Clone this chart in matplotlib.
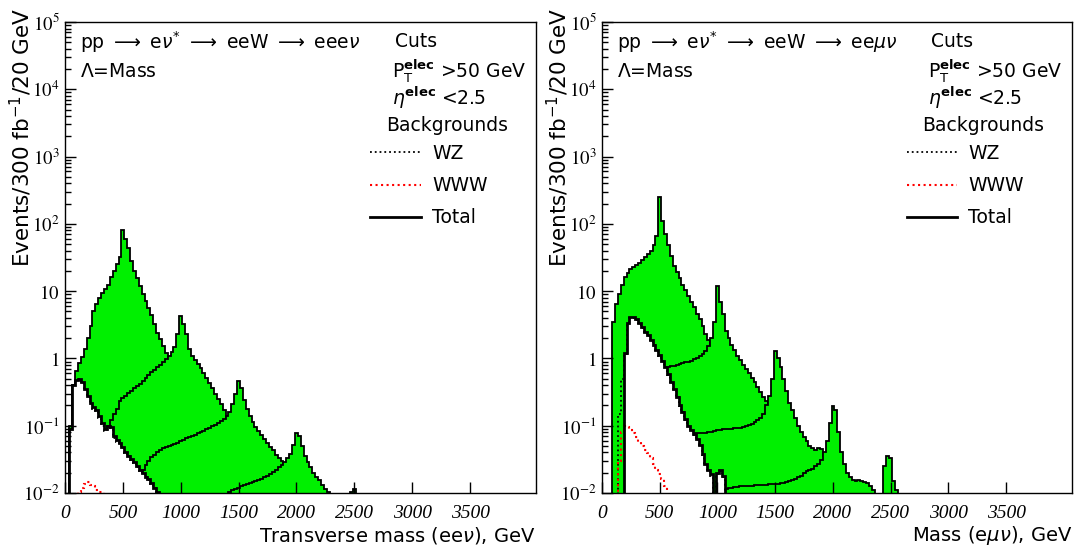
import numpy as np
import matplotlib
matplotlib.use('Agg')
import matplotlib.pyplot as plt
from matplotlib.ticker import LogLocator, NullFormatter, NullLocator

# 25 GeV bins; each series is given by the centre of its first bin and its contents
BIN = 25

# left panel: pp -> e nu* -> eeW -> eee nu
left_total_start = 50
left_total = [0.09, 0.4, 0.48, 0.5, 0.45, 0.35, 0.28, 0.22, 0.19, 0.17,
              0.14, 0.11, 0.09, 0.1, 0.095, 0.07, 0.062, 0.055, 0.048, 0.04,
              0.036, 0.032, 0.029, 0.025, 0.022, 0.02, 0.0175, 0.016, 0.014, 0.012,
              0.0105, 0.009, 0.006]
left_wz_start = 50
left_wz = [0.09, 0.39, 0.467, 0.487, 0.437, 0.337, 0.266, 0.208, 0.178, 0.159,
           0.13, 0.1, 0.083, 0.092, 0.088, 0.065, 0.058, 0.052, 0.046, 0.039,
           0.035, 0.031, 0.028, 0.024, 0.021, 0.019, 0.017, 0.0155, 0.0135, 0.0118,
           0.0103, 0.0088, 0.006]
left_www_start = 100
left_www = [0.008, 0.0105, 0.012, 0.0135, 0.0148, 0.013, 0.0125, 0.011, 0.0105,
            0.0102, 0.008]

left_s500_start = 50
left_s500 = [0.1, 0.4, 0.65, 0.85, 1.05, 1.4, 2.0, 3.0, 5.0, 6.5,
             8.0, 9.3, 10.8, 12.5, 16, 20, 25, 32, 82, 60,
             44, 28, 20, 15.5, 12, 9.2, 7.2, 5.6, 4.4, 3.2,
             2.4, 1.95, 1.55, 1.2, 0.95, 0.75, 0.6, 0.5, 0.42, 0.35,
             0.29, 0.24, 0.2, 0.17, 0.14, 0.115, 0.095, 0.08, 0.065, 0.055,
             0.045, 0.037, 0.03, 0.024, 0.018, 0.013, 0.008]
left_s1000_start = 375
left_s1000 = [0.1, 0.12, 0.15, 0.18, 0.23, 0.26, 0.28, 0.31, 0.33, 0.36,
              0.39, 0.42, 0.46, 0.51, 0.57, 0.63, 0.68, 0.74, 0.8, 0.88,
              0.98, 1.1, 1.25, 1.5, 2.3, 4.3, 3.2, 2.3, 1.4, 1.08,
              0.95, 0.84, 0.72, 0.61, 0.52, 0.43, 0.36, 0.3, 0.25, 0.21,
              0.17, 0.135, 0.11, 0.09, 0.075, 0.062, 0.05, 0.04, 0.033, 0.027,
              0.022, 0.018, 0.014, 0.011, 0.008]
left_s1500_start = 675
left_s1500 = [0.022, 0.026, 0.03, 0.034, 0.037, 0.04, 0.043, 0.046, 0.048, 0.05,
              0.051, 0.053, 0.056, 0.059, 0.062, 0.065, 0.068, 0.071, 0.074, 0.077,
              0.08, 0.084, 0.088, 0.093, 0.098, 0.104, 0.11, 0.118, 0.127, 0.138,
              0.16, 0.21, 0.3, 0.46, 0.36, 0.24, 0.18, 0.14, 0.115, 0.097,
              0.084, 0.074, 0.064, 0.056, 0.049, 0.043, 0.037, 0.033, 0.03, 0.027,
              0.024, 0.021, 0.018, 0.016, 0.014, 0.012, 0.0105, 0.008]
left_s2000_start = 1400
left_s2000 = [0.0095, 0.0105, 0.011, 0.0115, 0.012, 0.0125, 0.013, 0.0135, 0.014, 0.0145,
              0.015, 0.0155, 0.016, 0.017, 0.018, 0.019, 0.0205, 0.022, 0.024, 0.026,
              0.029, 0.033, 0.038, 0.052, 0.078, 0.07, 0.05, 0.036, 0.029, 0.024,
              0.02, 0.017, 0.0155, 0.013, 0.0115, 0.0105, 0.008]
left_s2500_start = 2475
left_s2500 = [0.0105, 0.0115, 0.009]

# right panel: pp -> e nu* -> eeW -> ee mu nu
right_total_start = 200
right_total = [1.2, 3.4, 4.1, 4.1, 3.8, 3.4, 2.9, 2.5, 2.2, 1.9,
               1.6, 1.35, 1.12, 0.92, 0.75, 0.58, 0.45, 0.35, 0.27, 0.2,
               0.16, 0.125, 0.1, 0.085, 0.075, 0.063, 0.052, 0.038, 0.027, 0.022,
               0.019, 0.008, 0.02, 0.022, 0.018, 0.005]
right_wz_start = 150
right_wz = [0.15, 0.5, 1.15, 3.3, 4.0, 4.0, 3.7, 3.32, 2.84, 2.45,
            2.16, 1.87, 1.57, 1.33, 1.1, 0.905, 0.74, 0.572, 0.443, 0.345,
            0.266, 0.197, 0.158, 0.123, 0.098, 0.083, 0.073, 0.062, 0.051, 0.037,
            0.026, 0.021, 0.018, 0.008, 0.019, 0.021, 0.017, 0.005]
right_www_start = 150
right_www = [0.03, 0.08, 0.098, 0.095, 0.086, 0.078, 0.068, 0.058, 0.05, 0.044,
             0.039, 0.033, 0.027, 0.022, 0.019, 0.016, 0.0125, 0.009]

right_s500_start = 75
right_s500 = [0.005, 3.5, 6.5, 9, 12.5, 16, 18.5, 21, 22.5, 24.5,
              26.5, 29, 32, 36, 40, 48, 65, 250, 110, 70,
              48, 33, 24, 19, 15.5, 12.5, 10.3, 8.5, 7, 5.8,
              4.6, 3.8, 3.0, 2.3, 1.85, 1.5, 1.2, 0.95, 0.78, 0.64,
              0.52, 0.43, 0.35, 0.29, 0.24, 0.2, 0.16, 0.13, 0.11, 0.09,
              0.075, 0.062, 0.05, 0.04, 0.033, 0.027, 0.022, 0.018, 0.015, 0.012,
              0.0105, 0.008]
right_s1000_start = 550
right_s1000 = [0.72, 0.74, 0.76, 0.78, 0.8, 0.83, 0.85, 0.87, 0.9, 0.93,
               0.97, 1.02, 1.08, 1.17, 1.3, 1.55, 2.0, 3.5, 12, 7,
               4.5, 2.6, 2.0, 1.6, 1.35, 1.1, 0.95, 0.8, 0.7, 0.6,
               0.51, 0.44, 0.38, 0.32, 0.27, 0.23, 0.19, 0.16, 0.13, 0.11,
               0.09, 0.075, 0.062, 0.052, 0.043, 0.036, 0.03, 0.025, 0.021, 0.017,
               0.014, 0.012, 0.01, 0.008]
right_s1500_start = 800
right_s1500 = [0.078, 0.078, 0.078, 0.078, 0.079, 0.08, 0.082, 0.084, 0.086, 0.087,
               0.088, 0.088, 0.089, 0.09, 0.091, 0.092, 0.094, 0.096, 0.099, 0.102,
               0.107, 0.113, 0.12, 0.13, 0.15, 0.2, 0.28, 0.5, 1.3, 1.0,
               0.75, 0.5, 0.33, 0.22, 0.17, 0.13, 0.1, 0.08, 0.068, 0.06,
               0.05, 0.046, 0.044, 0.047, 0.045, 0.036, 0.03, 0.026, 0.023, 0.02,
               0.018, 0.016, 0.014, 0.013, 0.012, 0.011, 0.0105, 0.009]
right_s2000_start = 1025
right_s2000 = [0.01, 0.011, 0.0115, 0.012, 0.012, 0.0122, 0.0124, 0.0125, 0.0126, 0.0127,
               0.0128, 0.0129, 0.013, 0.013, 0.0131, 0.0132, 0.0133, 0.0134, 0.0135, 0.0136,
               0.0138, 0.014, 0.0142, 0.0145, 0.015, 0.0155, 0.016, 0.017, 0.018, 0.0195,
               0.021, 0.022, 0.023, 0.025, 0.027, 0.031, 0.04, 0.06, 0.11, 0.195,
               0.17, 0.08, 0.04, 0.027, 0.02, 0.017, 0.0155, 0.015, 0.0155, 0.015,
               0.0145, 0.014, 0.0125, 0.011, 0.009]
right_s2500_start = 2425
right_s2500 = [0.009, 0.025, 0.035, 0.033, 0.015, 0.011, 0.007]

xticks = [0, 500, 1000, 1500, 2000, 2500, 3000, 3500]
yticks = [1e-2, 1e-1, 1, 10, 1e2, 1e3, 1e4, 1e5]
ytick_labels = [r'$\mathit{10}^{\mathit{-2}}$', r'$\mathit{10}^{\mathit{-1}}$',
                r'$\mathit{1}$', r'$\mathit{10}$', r'$\mathit{10}^{\mathit{2}}$',
                r'$\mathit{10}^{\mathit{3}}$', r'$\mathit{10}^{\mathit{4}}$',
                r'$\mathit{10}^{\mathit{5}}$']

GREEN = '#00f000'
FLOOR = 1e-3


def edges(start, vals):
    return start - BIN / 2 + BIN * np.arange(len(vals) + 1)


def signal(ax, start, vals):
    e = edges(start, vals)
    ax.stairs(vals, e, baseline=FLOOR, fill=True, color=GREEN, lw=0)
    ax.stairs(vals, e, baseline=FLOOR, color='black', lw=1.3)


def panel(ax, signals, total, wz, www, title, xlabel):
    for start, vals in signals:
        signal(ax, start, vals)
    ax.stairs(total[1], edges(*total), baseline=FLOOR, fill=True, color='white', lw=0)
    h_wz = ax.stairs(wz[1], edges(*wz), baseline=FLOOR, color='black', lw=1.3, ls=':')
    h_www = ax.stairs(www[1], edges(*www), baseline=FLOOR, color='red', lw=1.5, ls=':')
    h_tot = ax.stairs(total[1], edges(*total), baseline=FLOOR, color='black', lw=2.0)

    ax.set_yscale('log')
    ax.set_xlim(0, 4070)
    ax.set_ylim(1e-2, 1e5)
    ax.set_xticks(xticks)
    ax.set_xticklabels([str(t) for t in xticks], family='Liberation Serif',
                       style='italic', fontsize=14)
    ax.xaxis.set_minor_locator(NullLocator())
    ax.set_yticks(yticks)
    ax.set_yticklabels(ytick_labels, fontsize=13.5)
    for lab in ax.get_yticklabels():
        lab.set_math_fontfamily('stix')
    ax.yaxis.set_minor_locator(LogLocator(base=10, subs=np.arange(2, 10), numticks=20))
    ax.yaxis.set_minor_formatter(NullFormatter())
    ax.tick_params(which='major', direction='in', length=8, width=1, pad=4)
    ax.tick_params(which='minor', direction='in', length=4, width=1)
    ax.tick_params(axis='x', pad=9)
    for s in ax.spines.values():
        s.set_linewidth(1.0)

    fs = 13.5
    ax.text(0.032, 0.958, title, transform=ax.transAxes, fontsize=fs, va='center')
    ax.text(0.032, 0.894, r'$\Lambda$=Mass', transform=ax.transAxes, fontsize=fs, va='center')
    ax.text(0.700, 0.958, 'Cuts', transform=ax.transAxes, fontsize=fs, va='center')
    ax.text(0.694, 0.895, r'P$_\mathrm{T}^\mathbf{elec}$ >50 GeV', transform=ax.transAxes,
            fontsize=fs, va='center')
    ax.text(0.694, 0.838, r'$\eta^\mathbf{elec}$ <2.5', transform=ax.transAxes,
            fontsize=fs, va='center')
    ax.text(0.681, 0.781, 'Backgrounds', transform=ax.transAxes, fontsize=fs, va='center')
    ax.legend([h_wz, h_www, h_tot], ['WZ', 'WWW', 'Total'], loc='upper left',
              bbox_to_anchor=(0.648, 0.741), frameon=False, fontsize=fs,
              handlelength=2.7, handletextpad=0.6, labelspacing=0.7,
              borderpad=0, borderaxespad=0)
    ax.text(1.0, -0.102, xlabel, transform=ax.transAxes, fontsize=14,
            ha='right', va='baseline')


fig = plt.figure(figsize=(10.74, 5.46), dpi=100)
W, H = 1074, 546
ax1 = fig.add_axes([65 / W, (H - 493) / H, 471 / W, 471 / H])
ax2 = fig.add_axes([602 / W, (H - 493) / H, 470 / W, 471 / H])

arrow = r'$\longrightarrow$'
panel(ax1,
      [(left_s500_start, left_s500), (left_s1000_start, left_s1000),
       (left_s1500_start, left_s1500), (left_s2000_start, left_s2000),
       (left_s2500_start, left_s2500)],
      (left_total_start, left_total), (left_wz_start, left_wz),
      (left_www_start, left_www),
      'pp ' + arrow + r' e$\nu^{*}$ ' + arrow + ' eeW ' + arrow + r' eee$\nu$',
      r'Transverse mass (ee$\nu$), GeV')

panel(ax2,
      [(right_s500_start, right_s500), (right_s1000_start, right_s1000),
       (right_s1500_start, right_s1500), (right_s2000_start, right_s2000),
       (right_s2500_start, right_s2500)],
      (right_total_start, right_total), (right_wz_start, right_wz),
      (right_www_start, right_www),
      'pp ' + arrow + r' e$\nu^{*}$ ' + arrow + ' eeW ' + arrow + r' ee$\mu\nu$',
      r'Mass (e$\mu\nu$), GeV')

ylab = r'Events/300 fb$^{-1}$/20 GeV'
fig.text(21 / W, 1 - 8 / H, ylab, rotation=90, ha='center', va='top', fontsize=15.5)
fig.text(558 / W, 1 - 8 / H, ylab, rotation=90, ha='center', va='top', fontsize=15.5)

fig.savefig('out.png', dpi=100)
